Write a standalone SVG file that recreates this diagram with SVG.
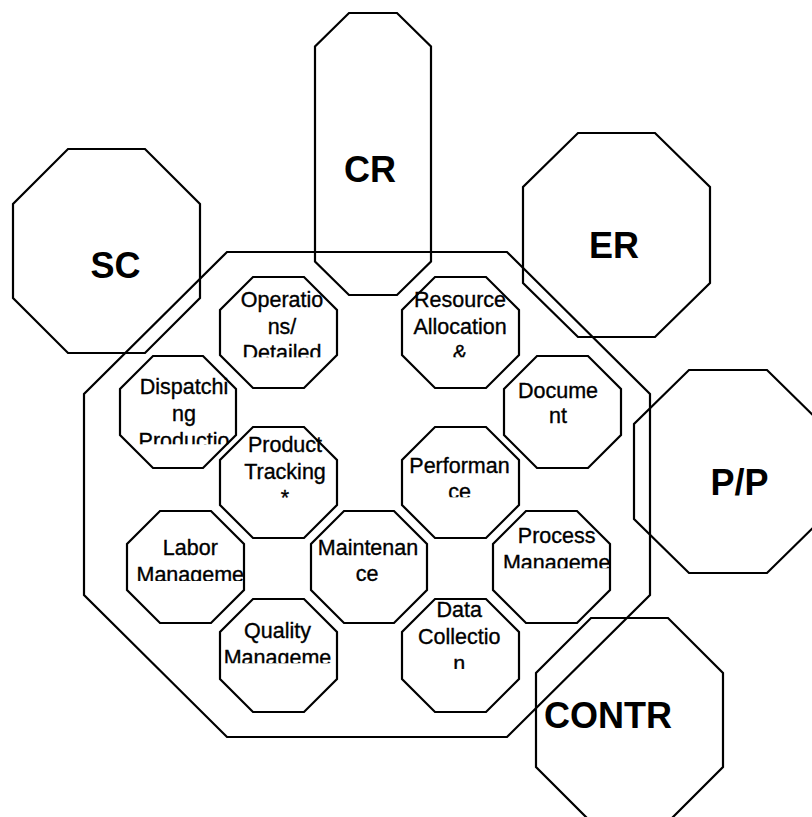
<svg xmlns="http://www.w3.org/2000/svg" width="812" height="817" viewBox="0 0 812 817">
<style>
.o{fill:none;stroke:#000;stroke-width:2.2;stroke-linejoin:miter}
.b{font-family:"Liberation Sans",Arial,sans-serif;font-weight:bold;font-size:36px;text-anchor:middle;fill:#000}
.s{font-family:"Liberation Sans",Arial,sans-serif;font-size:21.5px;text-anchor:middle;fill:#000;stroke:#000;stroke-width:0.35}
</style>
<defs>
<clipPath id="c1"><rect x="200" y="280" width="160" height="77.3"/></clipPath>
<clipPath id="c2"><rect x="380" y="280" width="160" height="77.3"/></clipPath>
<clipPath id="c3"><rect x="100" y="360" width="160" height="84.3"/></clipPath>
<clipPath id="c6"><rect x="380" y="440" width="160" height="57.3"/></clipPath>
<clipPath id="c7"><rect x="110" y="520" width="160" height="61"/></clipPath>
<clipPath id="c9"><rect x="480" y="510" width="160" height="58.3"/></clipPath>
<clipPath id="c10"><rect x="200" y="600" width="160" height="63.3"/></clipPath>
<clipPath id="c11"><rect x="380" y="580" width="160" height="89"/></clipPath>
</defs>
<rect width="812" height="817" fill="#fff"/>
<g id="connectors"/>
<g id="MES">
<polygon class="o" points="227,252 507,252 650,394 650,595 507,737 227,737 84,595 84,394"/>
</g>
<g id="SC">
<polygon class="o" points="68,149 145,149 200,204 200,298 145,353 68,353 13,298 13,204"/>
<text class="b" x="115.5" y="278">SC</text>
</g>
<g id="CR">
<polygon class="o" points="349,13 397,13 431,46.5 431,261.5 397,295 349,295 315,261.5 315,46.5"/>
<text class="b" x="370" y="181.5">CR</text>
</g>
<g id="ER">
<polygon class="o" points="578,133 655,133 710,187 710,283 655,337 578,337 523,283 523,187"/>
<text class="b" x="614" y="258">ER</text>
</g>
<g id="PP">
<polygon class="o" points="689,370 767,370 822,424 822,519 767,573 689,573 634,519 634,424"/>
<text class="b" x="739.5" y="495">P/P</text>
</g>
<g id="CONTR">
<polygon class="o" points="591,618 668,618 723,673 723,767 668,822 591,822 536,767 536,673"/>
<text class="b" x="608" y="728">CONTR</text>
</g>
<g id="operations">
<polygon class="o" points="253,277 304,277 337,310 337,355 304,388 253,388 220,355 220,310"/>
<g clip-path="url(#c1)" class="s"><text x="282" y="307.3">Operatio</text><text x="282" y="333.8">ns/</text><text x="282" y="360.3">Detailed</text></g>
</g>
<g id="resource">
<polygon class="o" points="435,277 486,277 519,310 519,355 486,388 435,388 402,355 402,310"/>
<g clip-path="url(#c2)" class="s"><text x="460" y="307.3">Resource</text><text x="460" y="333.8">Allocation</text><text x="460" y="360.3">&amp;</text></g>
</g>
<g id="dispatching">
<polygon class="o" points="153,356 203,356 236,389 236,435 203,468 153,468 120,435 120,389"/>
<g clip-path="url(#c3)" class="s"><text x="184" y="394.3">Dispatchi</text><text x="184" y="421">ng</text><text x="184" y="447.5">Productio</text></g>
</g>
<g id="document">
<polygon class="o" points="537,356 588,356 621,389 621,435 588,468 537,468 504,435 504,389"/>
<g class="s"><text x="558" y="397.7">Docume</text><text x="558" y="423.3">nt</text></g>
</g>
<g id="product-tracking">
<polygon class="o" points="253,427 304,427 337,460 337,505 304,538 253,538 220,505 220,460"/>
<g class="s"><text x="285" y="451.7">Product</text><text x="285" y="478.5">Tracking</text><text x="285" y="505">*</text></g>
</g>
<g id="performance">
<polygon class="o" points="435,427 486,427 519,460 519,505 486,538 435,538 402,505 402,460"/>
<g clip-path="url(#c6)" class="s"><text x="459.5" y="472.7">Performan</text><text x="459.5" y="499">ce</text></g>
</g>
<g id="labor">
<polygon class="o" points="160,511 211,511 244,544 244,590 211,623 160,623 127,590 127,544"/>
<g clip-path="url(#c7)" class="s"><text x="190.3" y="555">Labor</text><text x="190.3" y="582">Manageme</text></g>
</g>
<g id="maintenance">
<polygon class="o" points="344,511 394,511 427,544 427,590 394,623 344,623 311,590 311,544"/>
<g class="s"><text x="368" y="555">Maintenan</text><text x="367" y="581">ce</text></g>
</g>
<g id="process">
<polygon class="o" points="526,511 577,511 610,544 610,590 577,623 526,623 493,590 493,544"/>
<g clip-path="url(#c9)" class="s"><text x="556.7" y="543.3">Process</text><text x="556.7" y="570">Manageme</text></g>
</g>
<g id="quality">
<polygon class="o" points="253,599 304,599 337,632 337,679 304,712 253,712 220,679 220,632"/>
<g clip-path="url(#c10)" class="s"><text x="277.5" y="638.3">Quality</text><text x="277.5" y="665">Manageme</text></g>
</g>
<g id="data-collection">
<polygon class="o" points="435,599 486,599 519,632 519,679 486,712 435,712 402,679 402,632"/>
<g clip-path="url(#c11)" class="s"><text x="459.2" y="617.3">Data</text><text x="459.2" y="644">Collectio</text><text x="459.2" y="670.5">n</text></g>
</g>
</svg>
